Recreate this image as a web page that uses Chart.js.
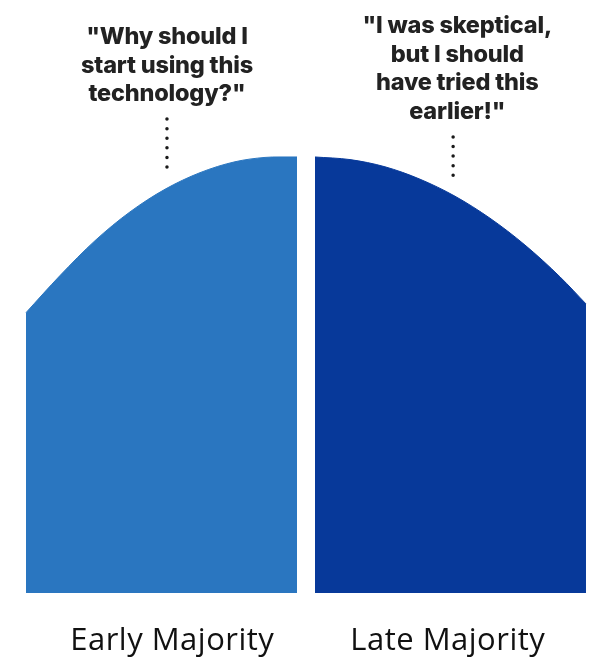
<!DOCTYPE html>
<html>
<head>
<meta charset="utf-8">
<script src="https://cdn.jsdelivr.net/npm/chart.js@4"></script>
<style>
  html, body { margin: 0; padding: 0; background: #fff; }
  #wrap { width: 590px; height: 657px; position: relative; }
</style>
</head>
<body>
<div id="wrap"><canvas id="c"></canvas></div>
<script>
// x in percent of the width, y in percent of the curve's peak
var earlyX = [4.41, 10.17, 16.1, 22.03, 27.97, 33.9, 39.83, 44.92, 47.46, 50.34];
var earlyY = [64.3, 72.8, 80.8, 87.4, 92.6, 96.4, 98.9, 99.9, 100, 100];
var lateX = [53.39, 59.32, 65.25, 71.19, 77.12, 83.05, 88.98, 94.92, 99.32];
var lateY = [100, 99.4, 97.75, 94.9, 91.0, 85.95, 79.8, 72.5, 66.3];

var categories = ["Early Majority", "Late Majority"];
var labelX = [29.2, 75.9];

var quotes = [
    ["\"Why should I", "start using this", "technology?\""],
    ["\"I was skeptical,", "but I should", "have tried this", "earlier!\""]
];
// dotted leader lines: x, top y, bottom y
var leaderX = [28.3, 76.8];
var leaderTop = [108.7, 104.6];
var leaderBottom = [97.5, 94.0];
var quoteX = [28.3, 77.5];

function pts(xs, ys) {
    return xs.map(function (x, i) { return { x: x, y: ys[i] }; });
}

var textPlugin = {
    id: "texts",
    afterDraw: function (chart) {
        var ctx = chart.ctx;
        var xs = chart.scales.x, ys = chart.scales.y;
        ctx.save();
        ctx.textAlign = "center";
        ctx.textBaseline = "alphabetic";
        ctx.fillStyle = "#222";
        ctx.font = "800 23.5px Inter";
        ctx.letterSpacing = "-0.2px";
        quotes.forEach(function (lines, i) {
            var cx = xs.getPixelForValue(quoteX[i]);
            var base = ys.getPixelForValue(leaderTop[i]) - 18;
            for (var k = lines.length - 1; k >= 0; k--) {
                ctx.fillText(lines[k], cx, base - (lines.length - 1 - k) * 28.5);
            }
        });
        ctx.fillStyle = "#111";
        ctx.font = "31px 'Open Sans'";
        ctx.letterSpacing = "0.5px";
        categories.forEach(function (c, i) {
            ctx.fillText(c, xs.getPixelForValue(labelX[i]), 650);
        });
        ctx.restore();
    }
};

var leaders = leaderX.map(function (x, i) {
    return {
        data: [{ x: x, y: leaderTop[i] }, { x: x, y: leaderBottom[i] }],
        borderColor: "#1a1a1a",
        borderWidth: 3.5,
        borderDash: [0, 9.6],
        borderCapStyle: "round",
        pointRadius: 0,
        fill: false,
    };
});

new Chart(document.getElementById("c"), {
    type: "line",
    data: {
        datasets: [
            {
                data: pts(earlyX, earlyY),
                borderColor: "#2a76c0",
                backgroundColor: "#2a76c0",
                borderWidth: 1,
                fill: "origin",
                pointRadius: 0,
                cubicInterpolationMode: "monotone",
            },
            {
                data: pts(lateX, lateY),
                borderColor: "#07399a",
                backgroundColor: "#07399a",
                borderWidth: 1,
                fill: "origin",
                pointRadius: 0,
                cubicInterpolationMode: "monotone",
            },
        ].concat(leaders),
    },
    options: {
        responsive: true,
        maintainAspectRatio: false,
        animation: false,
        layout: { padding: { left: 0, right: 0, top: 0, bottom: 64 } },
        plugins: { legend: { display: false }, tooltip: { enabled: false } },
        scales: {
            x: { type: "linear", min: 0, max: 100, display: false },
            y: { min: 0, max: 136, display: false },
        },
    },
    plugins: [textPlugin],
});
</script>
</body>
</html>
